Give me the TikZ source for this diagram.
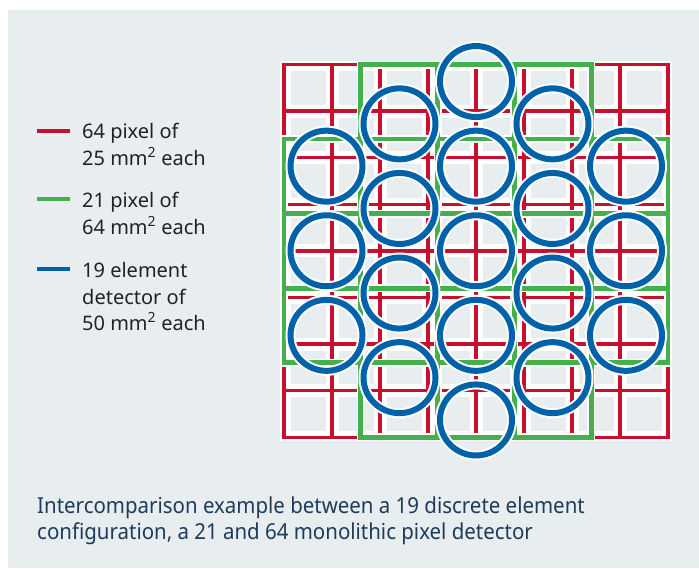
\documentclass[tikz,border=0pt]{standalone}
\usepackage{fontspec}
\setmainfont{Noto Sans}
\newfontfamily\capfont[FakeStretch=0.93]{Noto Sans}
\definecolor{bg}{HTML}{E8EDF0}
\definecolor{pxred}{HTML}{C8102E}
\definecolor{pxgreen}{HTML}{45B04B}
\definecolor{pxblue}{HTML}{0063A9}
\definecolor{captxt}{HTML}{1D3B5A}
\definecolor{legtxt}{HTML}{222222}
\tikzset{
  redline/.style={draw=pxred, line width=3.3pt},
  greenhalo/.style={draw=white, line width=8pt},
  greenline/.style={draw=pxgreen, line width=4.8pt},
  bluehalo/.style={draw=white, line width=10pt},
  blueline/.style={draw=pxblue, line width=6pt},
  legtext/.style={anchor=base west, inner sep=0pt, text=legtxt, font=\fontsize{20}{27}\selectfont},
  captext/.style={anchor=base west, inner sep=0pt, text=captxt, font=\capfont\fontsize{22}{26}\selectfont},
}
\begin{document}
\begin{tikzpicture}[x=1pt,y=-1pt]
\useasboundingbox (0,0) rectangle (699,568);
\fill[bg] (8,10) rectangle (699,568);
\fill[white] (280,61) rectangle (672,441);
% gray inner squares of the 8x8 grid
\foreach \i in {0,...,7}{
  \foreach \j in {0,...,7}{
    \fill[bg] ({284+48*\i+6.5},{64.5+46.6*\j+6.5}) rectangle ({284+48*(\i+1)-6.5},{64.5+46.6*(\j+1)-6.5});
  }
}
% red 64 pixel grid
\foreach \i in {1,...,7}{
  \draw[redline] ({284+48*\i},64.5) -- ({284+48*\i},437.3);
  \draw[redline] (284,{64.5+46.6*\i}) -- (668,{64.5+46.6*\i});
}
\draw[redline] (284,64.5) rectangle (668,437.3);
% green 21 pixel grid
\foreach \i/\j in {1/0,2/0,3/0,0/1,1/1,2/1,3/1,4/1,0/2,1/2,2/2,3/2,4/2,0/3,1/3,2/3,3/3,4/3,1/4,2/4,3/4}{
  \draw[greenhalo] ({284+76.8*\i},{64.5+74.56*\j}) rectangle ({284+76.8*(\i+1)},{64.5+74.56*(\j+1)});
}
\foreach \i/\j in {1/0,2/0,3/0,0/1,1/1,2/1,3/1,4/1,0/2,1/2,2/2,3/2,4/2,0/3,1/3,2/3,3/3,4/3,1/4,2/4,3/4}{
  \draw[greenline] ({284+76.8*\i},{64.5+74.56*\j}) rectangle ({284+76.8*(\i+1)},{64.5+74.56*(\j+1)});
}
% blue 19 element detector
\foreach \x/\m in {476/-2,476/-1,476/0,476/1,476/2,
                   399.5/-1.5,399.5/-0.5,399.5/0.5,399.5/1.5,552.5/-1.5,552.5/-0.5,552.5/0.5,552.5/1.5,
                   326.5/-1,326.5/0,326.5/1,626/-1,626/0,626/1}{
  \draw[bluehalo] (\x,{250.75+84.6*\m}) ellipse [x radius=36, y radius=35.5];
}
\foreach \x/\m in {476/-2,476/-1,476/0,476/1,476/2,
                   399.5/-1.5,399.5/-0.5,399.5/0.5,399.5/1.5,552.5/-1.5,552.5/-0.5,552.5/0.5,552.5/1.5,
                   326.5/-1,326.5/0,326.5/1,626/-1,626/0,626/1}{
  \draw[blueline] (\x,{250.75+84.6*\m}) ellipse [x radius=36, y radius=35.5];
}
% legend
\coordinate (ra) at (37,131); \coordinate (rb) at (70,131);
\coordinate (ga) at (37,199); \coordinate (gb) at (70,199);
\coordinate (ba) at (37,269); \coordinate (bb) at (70,269);
\draw[pxred, line width=3.8pt] (ra) -- (rb);
\draw[pxgreen, line width=3.8pt] (ga) -- (gb);
\draw[pxblue, line width=3.8pt] (ba) -- (bb);
\node[legtext] (t1) at (82,138) {64 pixel of};
\node[legtext] (t2) at (82,165) {25 mm\textsuperscript{2} each};
\node[legtext] (t3) at (82,207) {21 pixel of};
\node[legtext] (t4) at (82,234) {64 mm\textsuperscript{2} each};
\node[legtext] (t5) at (82,277) {19 element};
\node[legtext] (t6) at (82,304) {detector of};
\node[legtext] (t7) at (82,330) {50 mm\textsuperscript{2} each};
% caption
\node[captext] (c1) at (37,513) {Intercomparison example between a 19 discrete element};
\node[captext] (c2) at (37,539) {configuration, a 21 and 64 monolithic pixel detector};
\end{tikzpicture}
\end{document}
